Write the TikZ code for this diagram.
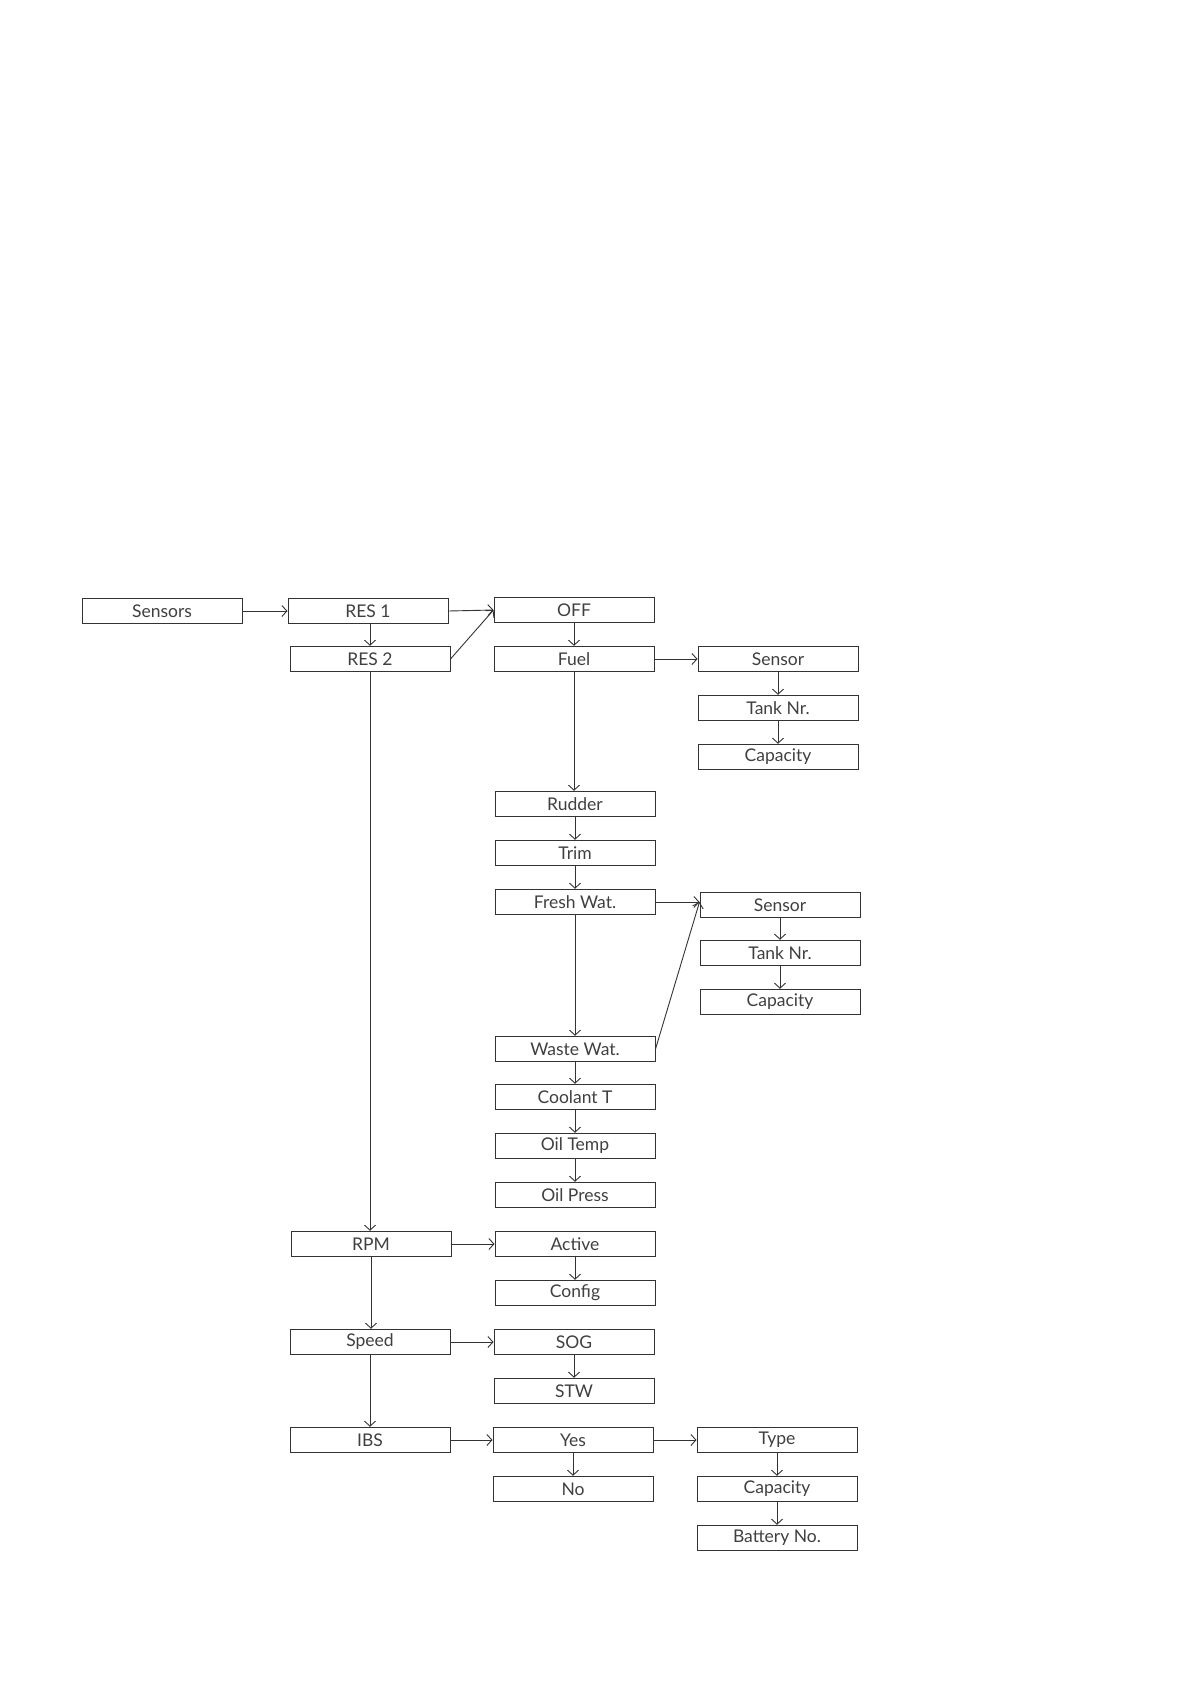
\documentclass[tikz,border=0pt]{standalone}
\usepackage{fontspec}
\setmainfont{Lato}
\usetikzlibrary{arrows.meta}
\definecolor{ink}{HTML}{333333}
\definecolor{txt}{HTML}{404040}
\begin{document}
\begin{tikzpicture}[x=1pt,y=-1pt,
  box/.style={draw=ink,line width=1pt,minimum width=160pt,minimum height=25.5pt,inner sep=0pt,
    text=txt,font=\fontsize{17.5}{19}\selectfont},
  conn/.style={draw=ink,line width=0.9pt,-{Straight Barb[length=5pt,width=11pt,line width=0.9pt]}}]
\useasboundingbox[fill=white] (0,0) rectangle (1190,1684);
% column 0/1
\node[box] (sensors) at (162,611) {Sensors};
\node[box] (res1) at (368,611) {RES 1};
\node[box] (res2) at (370,659) {RES 2};
\node[box] (rpm) at (371,1244) {RPM};
\node[box] (speed) at (370,1342) {Speed};
\node[box] (ibs) at (370,1440) {IBS};
% column 2
\node[box] (off) at (574,610) {OFF};
\node[box] (fuel) at (574,659) {Fuel};
\node[box] (rudder) at (575,804) {Rudder};
\node[box] (trim) at (575,853) {Trim};
\node[box] (fresh) at (575,902) {Fresh Wat.};
\node[box] (waste) at (575,1049) {Waste Wat.};
\node[box] (coolant) at (575,1097) {Coolant T};
\node[box] (oiltemp) at (575,1146) {Oil Temp};
\node[box] (oilpress) at (575,1195) {Oil Press};
\node[box] (active) at (575,1244) {Active};
\node[box] (config) at (575,1293) {Config};
\node[box] (sog) at (574,1342) {SOG};
\node[box] (stw) at (574,1391) {STW};
\node[box] (yes) at (573,1440) {Yes};
\node[box] (no) at (573,1489) {No};
% column 3
\node[box] (sensorA) at (778,659) {Sensor};
\node[box] (tankA) at (778,708) {Tank Nr.};
\node[box] (capA) at (778,757) {Capacity};
\node[box] (sensorB) at (780,905) {Sensor};
\node[box] (tankB) at (780,953) {Tank Nr.};
\node[box] (capB) at (780,1002) {Capacity};
\node[box] (type) at (777,1440) {Type};
\node[box] (capC) at (777,1489) {Capacity};
\node[box] (battery) at (777,1538) {Battery No.};
\coordinate (offin) at (off.west);
\coordinate (sensBin) at (sensorB.west |- fresh.east);
% connectors
\draw[conn] (sensors) -- (res1);
\draw[conn] (res1.south -| res2.north) -- (res2.north);
\draw[conn] (res1.east) -- (offin);
\draw[conn] (res2.east) -- (offin);
\draw[conn] (off) -- (fuel);
\draw[conn] (fuel) -- (sensorA);
\draw[conn] (sensorA) -- (tankA);
\draw[conn] (tankA) -- (capA);
\draw[conn] (fuel.south) -- (fuel.south |- rudder.north);
\draw[conn] (rudder) -- (trim);
\draw[conn] (trim) -- (fresh);
\draw[conn] (fresh.east) -- (sensBin);
\draw[conn] (fresh) -- (waste);
\draw[conn] (waste.east) -- (sensBin);
\draw[conn] (sensorB) -- (tankB);
\draw[conn] (tankB) -- (capB);
\draw[conn] (waste) -- (coolant);
\draw[conn] (coolant) -- (oiltemp);
\draw[conn] (oiltemp) -- (oilpress);
\draw[conn] (res2.south) -- (res2.south |- rpm.north);
\draw[conn] (rpm) -- (active);
\draw[conn] (active) -- (config);
\draw[conn] (rpm.south) -- (rpm.south |- speed.north);
\draw[conn] (speed) -- (sog);
\draw[conn] (sog) -- (stw);
\draw[conn] (speed) -- (ibs);
\draw[conn] (ibs) -- (yes);
\draw[conn] (yes) -- (no);
\draw[conn] (yes) -- (type);
\draw[conn] (type) -- (capC);
\draw[conn] (capC) -- (battery);
\end{tikzpicture}
\end{document}
